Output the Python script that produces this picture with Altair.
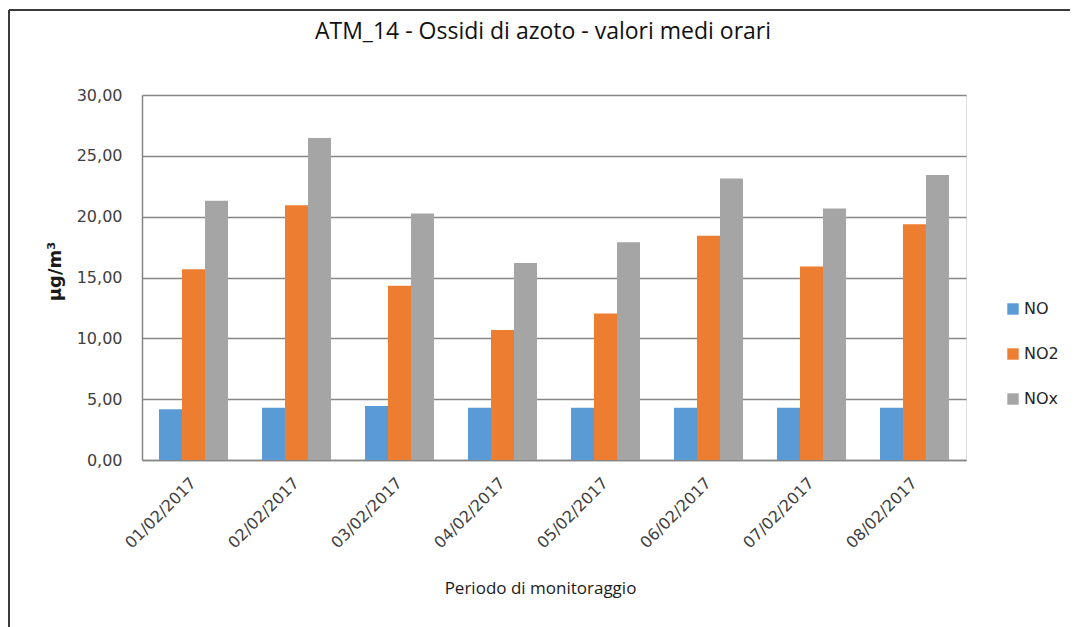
import altair as alt
import pandas as pd

dates = ["01/02/2017", "02/02/2017", "03/02/2017", "04/02/2017",
         "05/02/2017", "06/02/2017", "07/02/2017", "08/02/2017"]
series = ["NO", "NO2", "NOx"]
no = [4.17, 4.30, 4.44, 4.30, 4.30, 4.30, 4.30, 4.30]
no2 = [15.67, 20.93, 14.32, 10.68, 12.05, 18.43, 15.91, 19.37]
nox = [21.31, 26.46, 20.27, 16.19, 17.89, 23.14, 20.68, 23.42]
colors = ["#5B9BD5", "#ED7D31", "#A5A5A5"]
y_ticks = [0, 5, 10, 15, 20, 25, 30]

rows = []
for name, vals in zip(series, [no, no2, nox]):
    for d, v in zip(dates, vals):
        rows.append({"Data": d, "Inquinante": name, "Valore": v})
df = pd.DataFrame(rows)

W, H = 824, 365

bars = alt.Chart(df).mark_bar().encode(
    x=alt.X("Data:N", sort=dates,
            scale=alt.Scale(paddingInner=0.33, paddingOuter=0.165),
            axis=alt.Axis(title="Periodo di monitoraggio", labelAngle=-45,
                          labelAlign="right", labelBaseline="middle",
                          labelPadding=20, ticks=False,
                          labelFont="DejaVu Sans", labelFontSize=16,
                          labelColor="#404040", domainColor="#868686",
                          domainWidth=1.5, titleFont="Open Sans",
                          titleFontSize=17, titleFontWeight="normal",
                          titleColor="#1a1a1a", titleX=398, titleY=128,
                          titleBaseline="middle", titleAlign="center")),
    xOffset=alt.XOffset("Inquinante:N", sort=series),
    y=alt.Y("Valore:Q", scale=alt.Scale(domain=[0, 30], nice=False),
            axis=alt.Axis(title="µg/m³", values=y_ticks, ticks=False,
                          labelExpr="replace(format(datum.value, '.2f'), '.', ',')",
                          labelFont="DejaVu Sans", labelFontSize=16,
                          labelColor="#404040", labelPadding=20,
                          gridColor="#868686", gridWidth=1.5,
                          domainColor="#868686", domainWidth=1.5,
                          titleFont="DejaVu Sans", titleFontSize=18,
                          titleFontWeight="bold", titleColor="#1a1a1a",
                          titleX=-87, titleY=176, titleAlign="center",
                          titleBaseline="middle")),
    color=alt.Color("Inquinante:N", sort=series,
                    scale=alt.Scale(domain=series, range=colors),
                    legend=alt.Legend(title=None, orient="none", legendX=863,
                                      legendY=206, symbolType="square",
                                      symbolSize=130, symbolStrokeWidth=0,
                                      labelFont="DejaVu Sans", labelFontSize=16,
                                      labelColor="#262626", rowPadding=29,
                                      labelOffset=3)),
)

frame_df = pd.DataFrame({"k": [0]})
frame_top = alt.Chart(frame_df).mark_rule(color="#3a3a3a", strokeWidth=2).encode(
    x=alt.value(-133), x2=alt.value(W + 200), y=alt.value(-85))
frame_left = alt.Chart(frame_df).mark_rule(color="#3a3a3a", strokeWidth=2).encode(
    x=alt.value(-133), y=alt.value(-85), y2=alt.value(H + 200))

chart = alt.layer(bars, frame_top, frame_left).properties(
    width=W, height=H,
    title=alt.TitleParams("ATM_14 - Ossidi di azoto - valori medi orari",
                          font="Open Sans", fontSize=23, fontWeight=500,
                          color="#111111", anchor="middle", dx=-11, offset=-35),
    autosize=alt.AutoSizeParams(type="none"),
    padding={"left": 134, "top": 87, "right": 104, "bottom": 167},
).configure_view(stroke=None).configure(background="white")

chart.save("out.html", embed_options={"renderer": "svg", "actions": False})
